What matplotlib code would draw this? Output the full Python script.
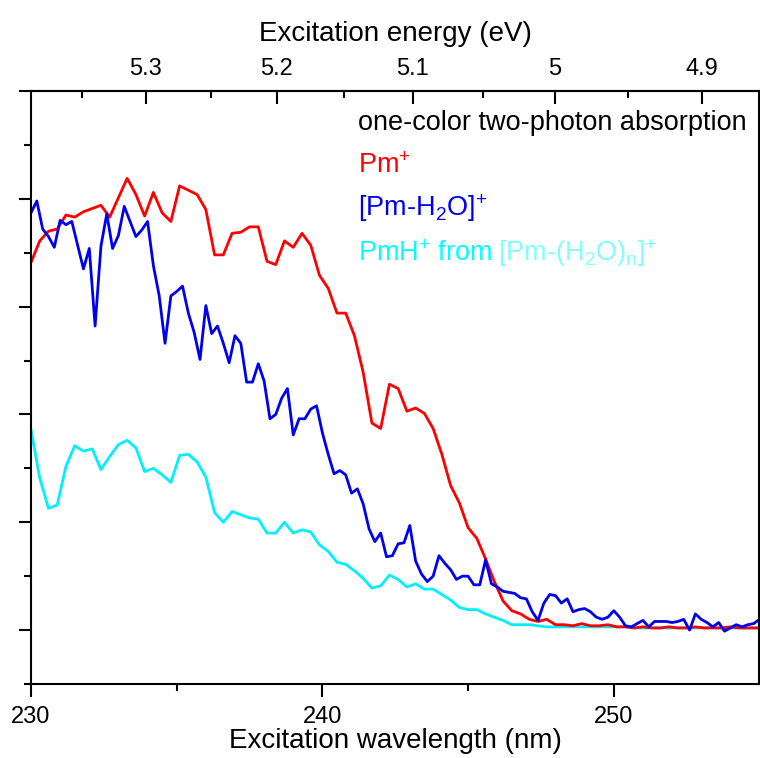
import matplotlib
matplotlib.use("Agg")
import matplotlib.pyplot as plt
import numpy as np
from matplotlib.ticker import FixedLocator, FuncFormatter, NullFormatter

plt.rcParams["font.family"] = ["Liberation Sans", "DejaVu Sans"]
plt.rcParams["mathtext.fontset"] = "custom"
plt.rcParams["mathtext.rm"] = "Liberation Sans"
plt.rcParams["mathtext.it"] = "Liberation Sans"

# scan grids (nm)
start_nm = 230.0
step_pm = 0.3    # Pm+ and PmH+ scans
step_h2o = 0.2   # [Pm-H2O]+ scan

pm = [
    3.41, 3.61, 3.70, 3.72, 3.85, 3.83, 3.88, 3.91, 3.94, 3.83,
    4.01, 4.19, 4.04, 3.84, 4.06, 3.87, 3.79, 4.12, 4.08, 4.04,
    3.90, 3.48, 3.48, 3.68, 3.69, 3.74, 3.74, 3.42, 3.39, 3.61,
    3.55, 3.68, 3.57, 3.29, 3.17, 2.94, 2.94, 2.73, 2.39, 1.92,
    1.87, 2.28, 2.24, 2.03, 2.06, 2.01, 1.87, 1.63, 1.34, 1.18,
    0.95, 0.85, 0.66, 0.45, 0.27, 0.18, 0.15, 0.10, 0.08, 0.10,
    0.05, 0.05, 0.04, 0.06, 0.04, 0.04, 0.05, 0.03, 0.03, 0.02,
    0.03, 0.02, 0.02, 0.03, 0.02, 0.02, 0.03, 0.02, 0.02, 0.02,
    0.03, 0.02, 0.02, 0.02,
]

pmh = [
    1.86, 1.41, 1.13, 1.16, 1.52, 1.71, 1.66, 1.68, 1.49, 1.61,
    1.72, 1.76, 1.69, 1.47, 1.50, 1.44, 1.37, 1.62, 1.63, 1.56,
    1.42, 1.09, 1.00, 1.10, 1.07, 1.04, 1.03, 0.90, 0.90, 1.00,
    0.90, 0.93, 0.91, 0.79, 0.73, 0.63, 0.61, 0.55, 0.48, 0.39,
    0.41, 0.51, 0.47, 0.40, 0.43, 0.38, 0.38, 0.33, 0.28, 0.21,
    0.19, 0.19, 0.15, 0.12, 0.09, 0.05, 0.05, 0.05, 0.04, 0.03,
    0.03, 0.03, 0.03, 0.03, 0.03, 0.03, 0.03, 0.03, 0.03, 0.02,
    0.02, 0.02, 0.02, 0.02, 0.02, 0.02, 0.02, 0.02, 0.02, 0.02,
    0.02, 0.02, 0.02, 0.02,
]

pm_h2o = [
    3.87, 3.98, 3.72, 3.65, 3.55, 3.80, 3.76, 3.79, 3.57, 3.35,
    3.54, 2.82, 3.56, 3.86, 3.54, 3.66, 3.93, 3.79, 3.65, 3.71,
    3.79, 3.38, 3.10, 2.66, 3.10, 3.14, 3.19, 2.94, 2.76, 2.51,
    3.01, 2.75, 2.82, 2.66, 2.48, 2.73, 2.66, 2.30, 2.30, 2.47,
    2.31, 1.96, 2.00, 2.15, 2.24, 1.81, 1.96, 1.96, 2.05, 2.08,
    1.83, 1.63, 1.45, 1.48, 1.44, 1.27, 1.31, 1.17, 0.94, 0.82,
    0.90, 0.68, 0.69, 0.80, 0.81, 0.97, 0.64, 0.52, 0.45, 0.50,
    0.69, 0.62, 0.56, 0.47, 0.50, 0.50, 0.42, 0.42, 0.65, 0.43,
    0.40, 0.36, 0.35, 0.34, 0.30, 0.29, 0.17, 0.09, 0.25, 0.33,
    0.32, 0.25, 0.29, 0.17, 0.19, 0.20, 0.17, 0.12, 0.10, 0.12,
    0.18, 0.12, 0.04, 0.03, 0.06, 0.09, 0.03, 0.08, 0.08, 0.08,
    0.07, 0.08, 0.10, 0.00, 0.15, 0.10, 0.07, 0.03, 0.07, -0.01,
    0.02, 0.05, 0.03, 0.05, 0.06, 0.10,
]

energy_ticks = [5.3, 5.2, 5.1, 5.0, 4.9]
energy_minor = [5.35, 5.25, 5.15, 5.05, 4.95]

wl_pm = start_nm + step_pm * np.arange(len(pm))
wl_h2o = start_nm + step_h2o * np.arange(len(pm_h2o))

HC = 1239.84  # eV nm


def nm_to_ev(x):
    x = np.asarray(x, dtype=float)
    with np.errstate(divide="ignore"):
        return HC / x


fig = plt.figure(figsize=(7.6, 7.58), dpi=100)
ax = fig.add_axes([31 / 760, 1 - 684 / 758, 728.5 / 760, 593 / 758])

lw = 2.0
ax.plot(wl_pm, pmh, color="#00f0ff", lw=lw)
ax.plot(wl_pm, pm, color="#ff0000", lw=lw)
ax.plot(wl_h2o, pm_h2o, color="#0000f0", lw=lw)

ax.set_xlim(230, 255)
ax.set_ylim(-0.5, 5.0)

for s in ax.spines.values():
    s.set_linewidth(1.5)

ax.set_xticks([230, 240, 250])
ax.set_xticks([235, 245], minor=True)
ax.set_yticks([0, 1, 2, 3, 4, 5])
ax.set_yticks([-0.5, 0.5, 1.5, 2.5, 3.5, 4.5], minor=True)
ax.tick_params(axis="both", which="major", direction="out", length=9, width=1.5)
ax.tick_params(axis="both", which="minor", direction="out", length=5, width=1.5)
ax.tick_params(axis="y", labelleft=False)
ax.tick_params(axis="x", labelsize=17, pad=7)
ax.set_xlabel("Excitation wavelength (nm)", fontsize=20, labelpad=0)

top = ax.secondary_xaxis("top", functions=(nm_to_ev, nm_to_ev))
top.xaxis.set_major_locator(FixedLocator(energy_ticks))
top.xaxis.set_minor_locator(FixedLocator(energy_minor))
top.xaxis.set_major_formatter(FuncFormatter(lambda v, p: f"{v:g}"))
top.xaxis.set_minor_formatter(NullFormatter())
top.tick_params(which="major", direction="in", length=9, width=1.5, labelsize=17, pad=8)
top.tick_params(which="minor", direction="in", length=5, width=1.5)
top.spines["top"].set_linewidth(1.5)
top.set_xlabel("Excitation energy (eV)", fontsize=20, labelpad=12)

# legend block
tx = 0.449
fs = 19.5
ax.text(tx, 0.935, "one-color two-photon absorption", transform=ax.transAxes,
        fontsize=fs, color="black", va="baseline")
ax.text(tx, 0.862, r"Pm$^{\mathregular{+}}$", transform=ax.transAxes,
        fontsize=fs, color="#ff0000", va="baseline")
ax.text(tx, 0.789, r"[Pm-H$_{\mathregular{2}}$O]$^{\mathregular{+}}$", transform=ax.transAxes,
        fontsize=fs, color="#0000f0", va="baseline")
t1 = ax.text(tx, 0.713, r"PmH$^{\mathregular{+}}$ from", transform=ax.transAxes,
             fontsize=fs, color="#00ffff", va="baseline")
fig.canvas.draw()
bb = t1.get_window_extent(renderer=fig.canvas.get_renderer())
x_end = ax.transAxes.inverted().transform((bb.x1 + 6, bb.y0))[0]
ax.text(x_end, 0.713, r"[Pm-(H$_{\mathregular{2}}$O)$_{\mathregular{n}}$]$^{\mathregular{+}}$",
        transform=ax.transAxes, fontsize=fs, color="#80ffff", va="baseline")

fig.savefig("out.png", dpi=100)
